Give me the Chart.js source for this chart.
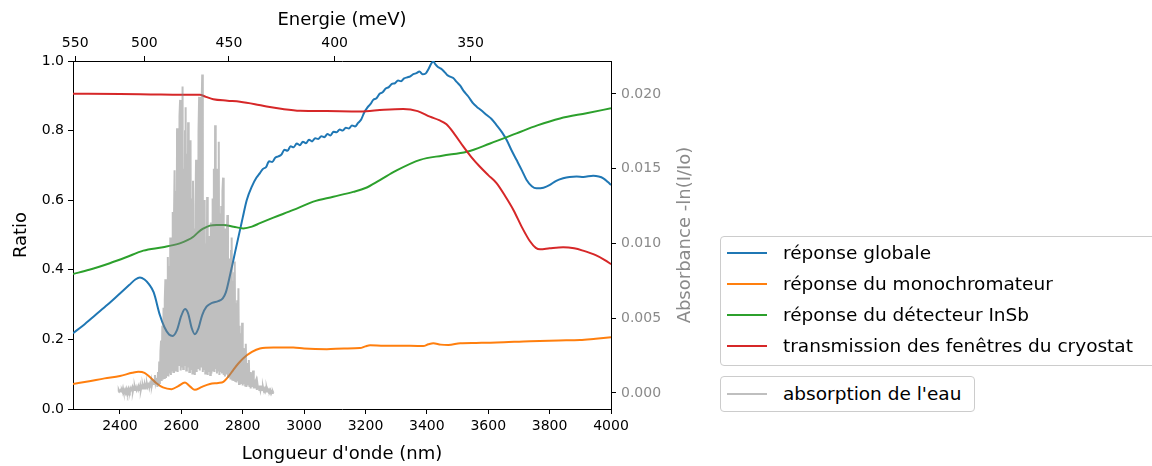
<!DOCTYPE html>
<html>
<head>
<meta charset="utf-8">
<script src="https://cdn.jsdelivr.net/npm/chart.js@4.4.1/dist/chart.umd.min.js"></script>
<style>
    body { margin: 0; background: #fff; }
    #wrap { position: relative; width: 1152px; height: 466px; overflow: hidden; }
    .legend {
        position: absolute;
        border: 1px solid #cccccc;
        border-radius: 4px;
        background: #fff;
        box-sizing: border-box;
        font-family: 'DejaVu Sans', sans-serif;
        font-size: 18.5px;
        color: #000;
    }
    .legend-row { position: absolute; left: 0; height: 31px; line-height: 31px; white-space: nowrap; }
    .legend-line { position: absolute; left: 6px; top: 15px; width: 40px; height: 2px; }
    .legend-text { position: absolute; left: 62px; top: 0; }
</style>
</head>
<body>
<div id="wrap">
    <canvas id="spectreChart" width="1152" height="466"></canvas>
    <div class="legend" id="legendMain" style="left:720px;top:236px;width:440px;height:130px"></div>
    <div class="legend" id="legendWater" style="left:720px;top:376px;width:255px;height:36px"></div>
</div>
<script>
// Axes
const xMin = 2247;
const xMax = 4000;
const wavelengthTicks = [2400, 2600, 2800, 3000, 3200, 3400, 3600, 3800, 4000];
const energyTicks = [550, 500, 450, 400, 350];   // meV, top axis
const ratioTicks = [0, 0.2, 0.4, 0.6, 0.8, 1.0];
const absTicks = [0, 0.005, 0.010, 0.015, 0.020];
const absMin = -0.00107;
const absMax = 0.0222;

// réponse globale
const globalNm = [2247, 2280, 2320, 2360, 2400, 2430, 2450, 2465, 2480, 2495, 2510, 2530, 2545, 2560, 2572,
    2585, 2600, 2612, 2622, 2634, 2644, 2655, 2668, 2682, 2700, 2720, 2735, 2745, 2760, 2775, 2791, 2800,
    2813, 2830, 2845, 2856, 2866, 2876, 2886, 2896, 2906, 2916, 2926, 2936, 2946, 2956, 2966, 2976, 2986,
    2996, 3006, 3016, 3026, 3036, 3046, 3056, 3066, 3076, 3086, 3096, 3106, 3116, 3126, 3136, 3146, 3156,
    3166, 3176, 3186, 3196, 3206, 3216, 3226, 3236, 3246, 3256, 3266, 3276, 3286, 3296, 3306, 3316, 3326,
    3336, 3346, 3356, 3366, 3376, 3386, 3396, 3406, 3414, 3421, 3428, 3436, 3446, 3456, 3466, 3476, 3486,
    3497, 3508, 3519, 3535, 3551, 3563, 3575, 3595, 3610, 3627, 3645, 3660, 3675, 3692, 3710, 3725, 3742,
    3757, 3780, 3801, 3820, 3844, 3865, 3888, 3910, 3942, 3960, 3975, 3990, 4000];
const globalVal = [0.218, 0.240, 0.270, 0.300, 0.332, 0.356, 0.372, 0.378, 0.372, 0.358, 0.335, 0.270, 0.235,
    0.214, 0.210, 0.225, 0.268, 0.287, 0.275, 0.232, 0.215, 0.230, 0.270, 0.294, 0.305, 0.310, 0.318, 0.335,
    0.390, 0.450, 0.514, 0.550, 0.600, 0.640, 0.665, 0.678, 0.690, 0.695, 0.712, 0.710, 0.722, 0.726, 0.731,
    0.745, 0.742, 0.755, 0.752, 0.763, 0.758, 0.768, 0.764, 0.774, 0.769, 0.778, 0.776, 0.784, 0.781, 0.790,
    0.786, 0.797, 0.795, 0.803, 0.800, 0.808, 0.806, 0.815, 0.812, 0.822, 0.832, 0.852, 0.866, 0.876, 0.889,
    0.893, 0.906, 0.910, 0.921, 0.925, 0.934, 0.936, 0.944, 0.942, 0.950, 0.953, 0.956, 0.962, 0.965, 0.970,
    0.962, 0.964, 0.978, 0.992, 0.999, 0.990, 0.983, 0.978, 0.970, 0.960, 0.955, 0.951, 0.940, 0.930, 0.915,
    0.898, 0.878, 0.868, 0.860, 0.845, 0.834, 0.816, 0.795, 0.773, 0.745, 0.716, 0.685, 0.658, 0.640, 0.634,
    0.636, 0.644, 0.655, 0.663, 0.667, 0.668, 0.667, 0.670, 0.668, 0.663, 0.652, 0.644];

// réponse du monochromateur
const monoNm = [2247, 2300, 2350, 2400, 2440, 2460, 2480, 2500, 2519, 2540, 2568, 2590, 2612, 2628, 2644,
    2665, 2693, 2720, 2737, 2755, 2769, 2785, 2802, 2830, 2856, 2900, 2965, 3000, 3074, 3130, 3182, 3200,
    3215, 3260, 3302, 3388, 3405, 3421, 3445, 3470, 3509, 3560, 3627, 3736, 3830, 3899, 3950, 4000];
const monoVal = [0.072, 0.080, 0.088, 0.095, 0.104, 0.107, 0.104, 0.090, 0.074, 0.062, 0.057, 0.066, 0.076,
    0.065, 0.055, 0.063, 0.072, 0.075, 0.078, 0.095, 0.112, 0.130, 0.146, 0.164, 0.174, 0.177, 0.177, 0.174,
    0.172, 0.174, 0.175, 0.180, 0.183, 0.182, 0.182, 0.181, 0.186, 0.189, 0.185, 0.184, 0.189, 0.190, 0.191,
    0.195, 0.197, 0.198, 0.202, 0.206];

// réponse du détecteur InSb
const insbNm = [2247, 2300, 2367, 2420, 2476, 2540, 2595, 2620, 2639, 2655, 2671, 2693, 2715, 2737, 2770,
    2802, 2830, 2856, 2900, 2965, 3000, 3030, 3095, 3160, 3200, 3247, 3300, 3378, 3450, 3530, 3606, 3692,
    3760, 3834, 3920, 4000];
const insbVal = [0.388, 0.400, 0.419, 0.436, 0.455, 0.465, 0.476, 0.485, 0.495, 0.508, 0.518, 0.527, 0.529,
    0.529, 0.524, 0.519, 0.524, 0.534, 0.550, 0.572, 0.585, 0.596, 0.610, 0.624, 0.635, 0.658, 0.685, 0.716,
    0.728, 0.739, 0.763, 0.792, 0.815, 0.835, 0.850, 0.864];

// transmission des fenêtres du cryostat
const windowNm = [2247, 2400, 2500, 2600, 2660, 2680, 2704, 2750, 2791, 2840, 2878, 2930, 2987, 3074, 3182,
    3260, 3323, 3370, 3410, 3440, 3464, 3490, 3519, 3545, 3573, 3600, 3627, 3655, 3682, 3710, 3736, 3755,
    3769, 3800, 3844, 3880, 3909, 3950, 3980, 4000];
const windowVal = [0.906, 0.905, 0.904, 0.903, 0.903, 0.897, 0.890, 0.886, 0.883, 0.876, 0.869, 0.862, 0.857,
    0.856, 0.855, 0.860, 0.862, 0.856, 0.840, 0.830, 0.818, 0.790, 0.754, 0.724, 0.696, 0.672, 0.649, 0.612,
    0.572, 0.522, 0.482, 0.463, 0.459, 0.462, 0.465, 0.462, 0.455, 0.442, 0.428, 0.416];

// absorption de l'eau, sampled every 2 nm from 2394 nm
const waterStartNm = 2394;
const waterStepNm = 2;
const waterAbs = [
    0.0001, 0.0002, 0.0001, 0.0001, 0.0002, 0.0001, 0.0002, 0.0001, 0.0003, 0.0001,
    0.0002, 0.0001, 0.0002, 0.0003, 0.0001, 0.0002, 0.0001, 0.0003, 0.0002, 0.0001,
    0.0003, 0.0002, 0.0002, 0.0004, 0.0001, 0.0003, 0.0002, 0.0004, 0.0002, 0.0003,
    0.0002, 0.0004, 0.0003, 0.0002, 0.0004, 0.0003, 0.0005, 0.0002, 0.0004, 0.0003,
    0.0005, 0.0003, 0.0004, 0.0006, 0.0003, 0.0005, 0.0004, 0.0006, 0.0004, 0.0005,
    0.0007, 0.0004, 0.0006, 0.0005, 0.0008, 0.0005, 0.0007, 0.0006, 0.0009, 0.0006,
    0.0012, 0.0007, 0.0009,
    0.0010, 0.0004, 0.0014, 0.0005, 0.0021, 0.0006, 0.0028, 0.0035, 0.0008, 0.0045,
    0.0009, 0.0057, 0.0010, 0.0062, 0.0076, 0.0010, 0.0070, 0.0012, 0.0091, 0.0011,
    0.0085, 0.0013, 0.0104, 0.0012, 0.0098, 0.0015, 0.0121, 0.0014, 0.0115, 0.0149,
    0.0015, 0.0135, 0.0016, 0.0177, 0.0014, 0.0160, 0.0018, 0.0185, 0.0196, 0.0015,
    0.0170, 0.0017, 0.0205, 0.0016, 0.0150, 0.0018, 0.0175, 0.0191, 0.0015, 0.0160,
    0.0017, 0.0181, 0.0120, 0.0014, 0.0150, 0.0169, 0.0016, 0.0130, 0.0013, 0.0142,
    0.0015, 0.0110, 0.0012, 0.0125, 0.0156, 0.0014, 0.0130, 0.0016, 0.0175, 0.0198,
    0.0015, 0.0160, 0.0017, 0.0190, 0.0213, 0.0014, 0.0110, 0.0016, 0.0129, 0.0013,
    0.0100, 0.0015, 0.0131, 0.0012, 0.0095, 0.0014, 0.0105, 0.0012, 0.0114, 0.0013,
    0.0090, 0.0130, 0.0015, 0.0150, 0.0014, 0.0179, 0.0016, 0.0130, 0.0013, 0.0150,
    0.0015, 0.0168, 0.0012, 0.0120, 0.0014, 0.0125, 0.0013, 0.0135, 0.0144, 0.0012,
    0.0100, 0.0011, 0.0110, 0.0013, 0.0105, 0.0119, 0.0010, 0.0085, 0.0011, 0.0090,
    0.0009, 0.0095, 0.0104, 0.0009, 0.0075, 0.0008, 0.0080, 0.0088, 0.0008, 0.0060,
    0.0007, 0.0062, 0.0008, 0.0070, 0.0006, 0.0045, 0.0007, 0.0040, 0.0006, 0.0047,
    0.0005, 0.0030, 0.0006, 0.0028, 0.0005, 0.0033, 0.0004, 0.0020, 0.0005, 0.0018,
    0.0022, 0.0004, 0.0014, 0.0003, 0.0011, 0.0004, 0.0012, 0.0015, 0.0003, 0.0009,
    0.0003, 0.0008, 0.0009, 0.0002, 0.0006, 0.0003, 0.0005, 0.0002, 0.0005, 0.0002,
    0.0004, 0.0005, 0.0002, 0.0004, 0.0002, 0.0003, 0.0002, 0.0003, 0.0001, 0.0003,
    0.0001, 0.0002, 0.0001, 0.0002, 0.0001, 0.0002, 0.0001, 0.0001, 0.0000, 0.0001,
    0.0000
];

const seriesLabels = ['réponse globale', 'réponse du monochromateur', 'réponse du détecteur InSb',
    'transmission des fenêtres du cryostat'];
const seriesColors = ['#1f77b4', '#ff7f0e', '#2ca02c', '#d62728'];
const waterLabel = "absorption de l'eau";
const waterColor = 'rgba(128, 128, 128, 0.5)';
const axisGray = '#8a8a8a';

const HC = 1239841.98;  // meV * nm

function toPoints(xs, ys) {
    return xs.map((x, i) => ({ x: x, y: ys[i] }));
}

const waterPoints = waterAbs.map((a, i) => ({ x: waterStartNm + i * waterStepNm, y: a }));

Chart.defaults.font.family = "'DejaVu Sans', sans-serif";
Chart.defaults.color = '#000';

const curveSets = [[globalNm, globalVal], [monoNm, monoVal], [insbNm, insbVal], [windowNm, windowVal]];
const datasets = curveSets.map((c, i) => ({
    label: seriesLabels[i],
    data: toPoints(c[0], c[1]),
    borderColor: seriesColors[i],
    borderWidth: 2,
    pointRadius: 0,
    cubicInterpolationMode: 'monotone',
    xAxisID: 'x',
    yAxisID: 'y',
    order: 5 - i
}));
datasets.push({
    label: waterLabel,
    data: waterPoints,
    borderColor: waterColor,
    borderWidth: 2,
    pointRadius: 0,
    tension: 0,
    xAxisID: 'x',
    yAxisID: 'y2',
    order: 0
});

const tickGrid = { display: true, drawOnChartArea: false, drawTicks: true, tickLength: 5, color: '#000' };
const frame = { display: true, color: '#000', width: 1 };

// right axis label reads bottom to top like matplotlib
const rightTitlePlugin = {
    id: 'rightTitle',
    afterDraw(chart) {
        const ctx = chart.ctx;
        const area = chart.chartArea;
        ctx.save();
        ctx.translate(area.right + 74, (area.top + area.bottom) / 2);
        ctx.rotate(-Math.PI / 2);
        ctx.font = "18px 'DejaVu Sans', sans-serif";
        ctx.fillStyle = axisGray;
        ctx.textAlign = 'center';
        ctx.textBaseline = 'middle';
        ctx.fillText('Absorbance -ln(I/Io)', 0, 0);
        ctx.restore();
    }
};

new Chart(document.getElementById('spectreChart').getContext('2d'), {
    type: 'line',
    data: { datasets: datasets },
    options: {
        responsive: false,
        animation: false,
        layout: { padding: { left: 0, top: 0, right: 441, bottom: 0 } },
        plugins: { legend: { display: false }, tooltip: { enabled: false } },
        scales: {
            x: {
                type: 'linear', position: 'bottom', min: xMin, max: xMax,
                afterBuildTicks: s => { s.ticks = wavelengthTicks.map(v => ({ value: v })); },
                afterFit: s => { s.height = 57; },
                ticks: { font: { size: 14 }, padding: 4, maxRotation: 0, autoSkip: false, callback: v => String(v) },
                grid: tickGrid, border: frame,
                title: { display: true, text: "Longueur d'onde (nm)", font: { size: 18 }, padding: { top: 0, bottom: 1 } }
            },
            xTop: {
                type: 'linear', position: 'top', min: xMin, max: xMax,
                afterBuildTicks: s => { s.ticks = energyTicks.map(e => ({ value: HC / e })); },
                afterFit: s => { s.height = 61; },
                ticks: { font: { size: 14 }, padding: 4, maxRotation: 0, autoSkip: false,
                    callback: v => String(Math.round(HC / v)) },
                grid: tickGrid, border: frame,
                title: { display: true, text: 'Energie (meV)', font: { size: 18 }, padding: { top: 10, bottom: 0 } }
            },
            y: {
                type: 'linear', position: 'left', min: 0, max: 1,
                afterBuildTicks: s => { s.ticks = ratioTicks.map(v => ({ value: v })); },
                afterFit: s => { s.width = 73; },
                ticks: { font: { size: 14 }, padding: 4, callback: v => v.toFixed(1) },
                grid: tickGrid, border: frame,
                title: { display: true, text: 'Ratio', font: { size: 18 }, padding: { top: 11, bottom: 0 } }
            },
            y2: {
                type: 'linear', position: 'right', min: absMin, max: absMax,
                afterBuildTicks: s => { s.ticks = absTicks.map(v => ({ value: v })); },
                afterFit: s => { s.width = 100; },
                ticks: { font: { size: 14 }, padding: 5, color: axisGray, callback: v => v.toFixed(3) },
                grid: tickGrid, border: frame,
                title: { display: false }
            }
        }
    },
    plugins: [rightTitlePlugin]
});

// legends
function addRow(box, top, label, color) {
    const row = document.createElement('div');
    row.className = 'legend-row';
    row.style.top = top + 'px';
    row.innerHTML = '<span class="legend-line"></span><span class="legend-text"></span>';
    row.querySelector('.legend-line').style.background = color;
    row.querySelector('.legend-text').textContent = label;
    box.appendChild(row);
}
const legendMain = document.getElementById('legendMain');
seriesLabels.forEach((label, i) => addRow(legendMain, 0 + i * 31, label, seriesColors[i]));
addRow(document.getElementById('legendWater'), 1, waterLabel, waterColor);
</script>
</body>
</html>
